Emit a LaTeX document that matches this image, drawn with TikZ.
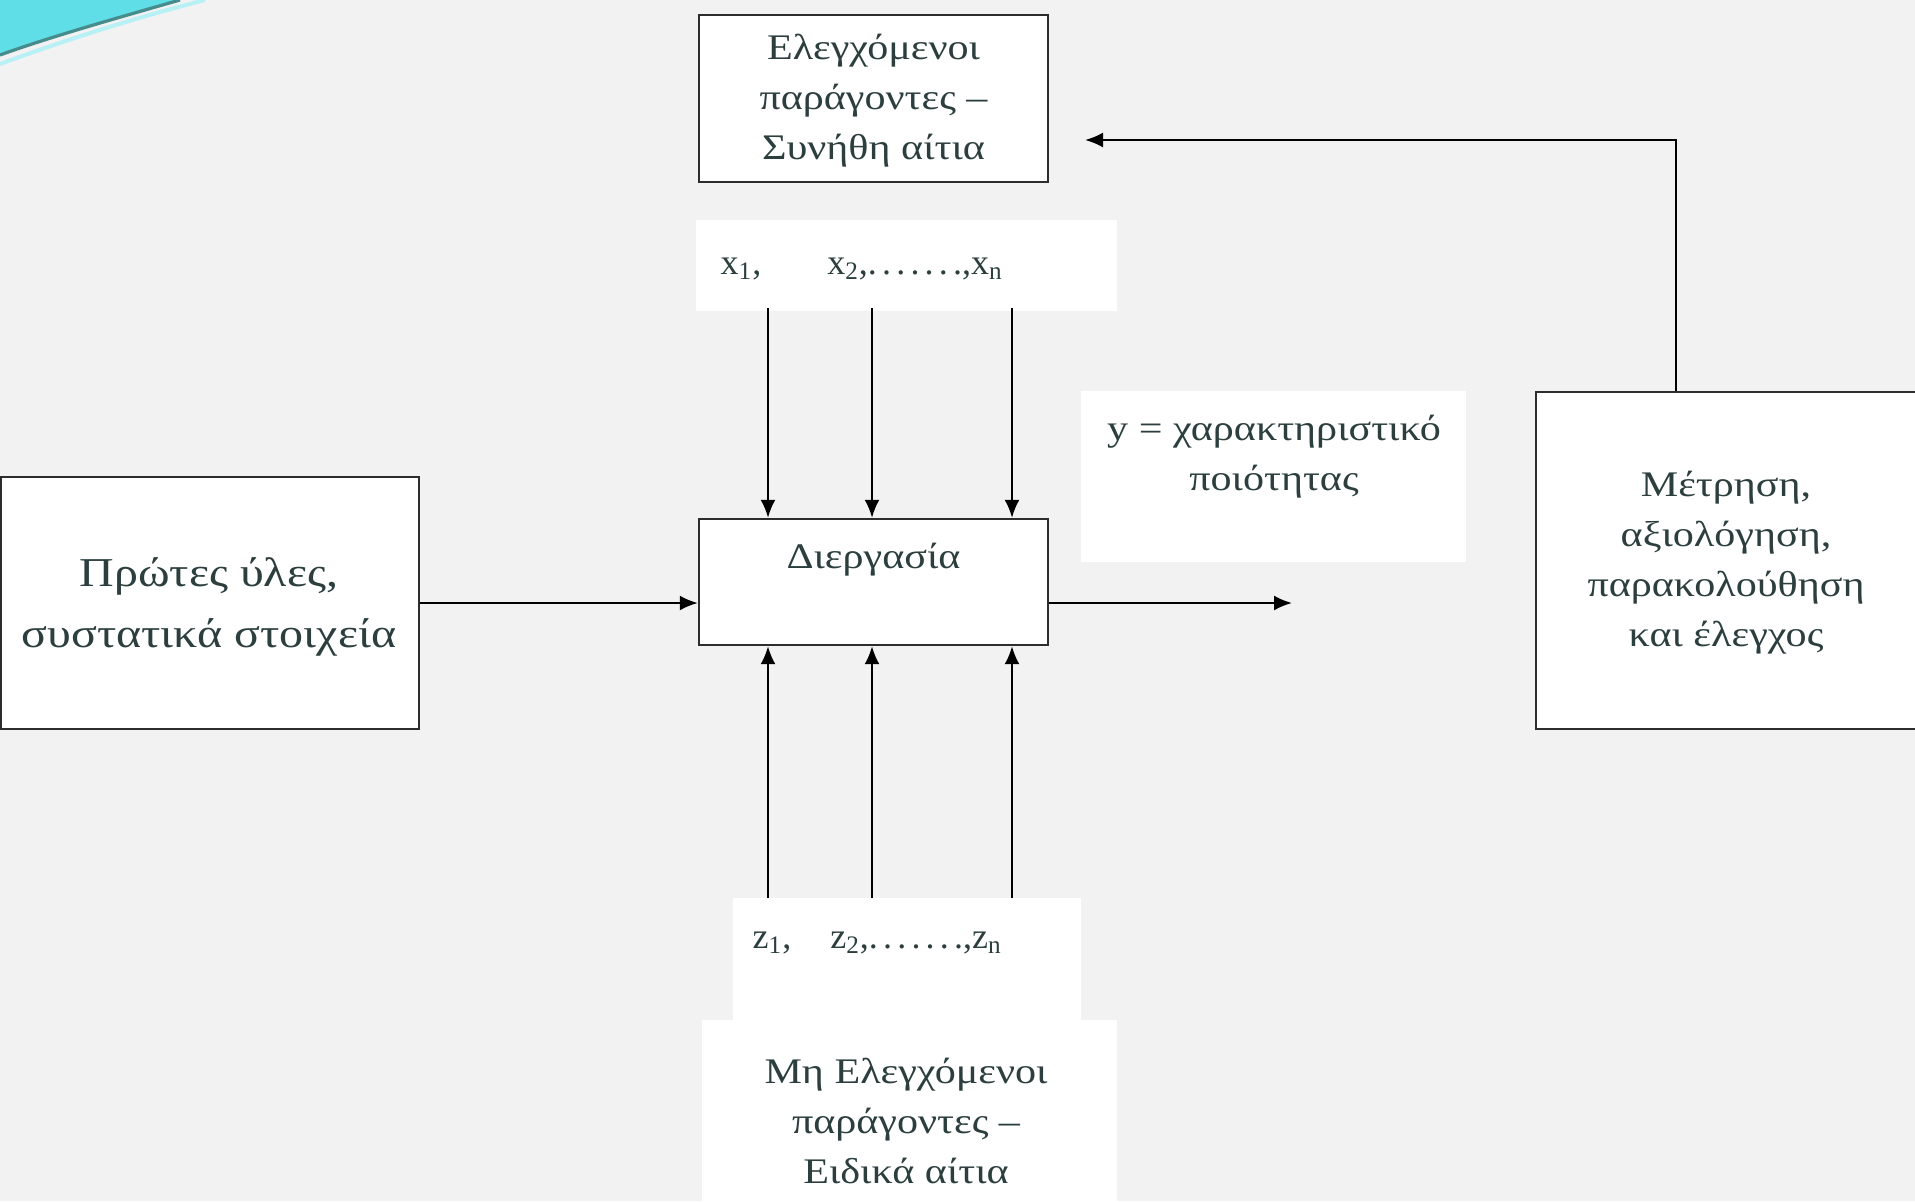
\documentclass[tikz,border=0pt]{standalone}
\usepackage{fontspec}
\setmainfont{Liberation Serif}
\newfontfamily\widegreek[FakeStretch=1.17]{Liberation Serif}
\usetikzlibrary{arrows.meta}
\definecolor{pagebg}{RGB}{242,242,242}
\definecolor{ink}{RGB}{44,62,62}
\definecolor{frame}{RGB}{45,45,45}
\definecolor{swoosh}{RGB}{96,222,232}
\definecolor{swooshline}{RGB}{70,140,140}
\newcommand{\dotrun}{.\kern2.6pt.\kern2.6pt.\kern2.6pt.\kern2.6pt.\kern2.6pt.\kern2.6pt.}
\tikzset{
  box/.style={draw=frame, line width=1.2pt, fill=white, inner sep=0pt},
  txt/.style={text=ink, font=\widegreek\fontsize{18}{25}\selectfont, align=center, inner sep=0pt},
  idx/.style={text=ink, font=\fontsize{18}{25}\selectfont, align=center, inner sep=0pt},
  bigtxt/.style={text=ink, font=\widegreek\fontsize{20.5}{30.5}\selectfont, align=center, inner sep=0pt},
  flow/.style={draw=black, line width=1.1pt, -{Latex[length=9pt,width=7.5pt]}},
  patch/.style={fill=white, draw=none}
}
\begin{document}
\begin{tikzpicture}[x=0.5pt,y=-0.5pt]
\useasboundingbox (0,0) rectangle (1915,1201);
% page background and light panels behind the free labels
\fill[pagebg] (0,0) rectangle (1915,1201);
\fill[patch] (696,220) rectangle (1117,311);
\fill[patch] (1081,391) rectangle (1466,562);
\fill[patch] (733,898) rectangle (1081,1020);
\fill[patch] (702,1020) rectangle (1117,1201);
% corner ornament
\fill[swoosh] (0,0) -- (180,0) .. controls (110,20) and (50,37) .. (0,55) -- cycle;
\draw[swooshline, line width=1.6pt] (0,55) .. controls (50,37) and (110,20) .. (180,0);
\draw[swoosh!45, line width=2pt] (0,64) .. controls (60,42) and (130,19) .. (205,0);

% boxes
\node[box, minimum width=174.5pt, minimum height=83.5pt] (ctrl) at (873.5,98.5) {};
\node[txt] (ctrltxt) at (873.5,101) {Ελεγχόμενοι\\παράγοντες –\\Συνήθη αίτια};

\node[box, minimum width=174.5pt, minimum height=63pt] (proc) at (873.5,582) {};
\node[txt] (proctxt) at (873.5,560) {Διεργασία};

\node[box, minimum width=209pt, minimum height=126pt] (raw) at (210,603) {};
\node[bigtxt] (rawtxt) at (209,607) {Πρώτες ύλες,\\συστατικά στοιχεία};

\node[box, minimum width=192pt, minimum height=168.5pt] (meas) at (1728,560.5) {};
\node[txt] (meastxt) at (1726,563) {Μέτρηση,\\αξιολόγηση,\\παρακολούθηση\\και έλεγχος};

% free labels
\node[idx, anchor=base] (x1) at (741,274) {x\textsubscript{1},};
\node[idx, anchor=base] (xn) at (915,274) {x\textsubscript{2},\dotrun,x\textsubscript{n}};
\node[txt] (ylab) at (1274,457) {y = χαρακτηριστικό\\ποιότητας};
\node[idx, anchor=base] (z1) at (772,948) {z\textsubscript{1},};
\node[idx, anchor=base] (zn) at (916,948) {z\textsubscript{2},\dotrun,z\textsubscript{n}};
\node[txt] (unctl) at (906,1121) {Μη Ελεγχόμενοι\\παράγοντες –\\Ειδικά αίτια};

% connector end points
\coordinate (xa) at (768,308);
\coordinate (xb) at (872,308);
\coordinate (xc) at (1012,308);
\coordinate (za) at (768,898);
\coordinate (zb) at (872,898);
\coordinate (zc) at (1012,898);
\coordinate (out) at (1292,603);
\coordinate (fbturn) at (1676,140);
\coordinate (fbend) at (1085,140);

% flows
\draw[flow] (raw.east) -- (proc.west |- raw.east);
\draw[flow] (proc.east |- out) -- (out);
\draw[flow] (xa) -- (xa |- proc.north);
\draw[flow] (xb) -- (xb |- proc.north);
\draw[flow] (xc) -- (xc |- proc.north);
\draw[flow] (za) -- (za |- proc.south);
\draw[flow] (zb) -- (zb |- proc.south);
\draw[flow] (zc) -- (zc |- proc.south);
\draw[flow] (fbturn |- meas.north) -- (fbturn) -- (fbend);
\end{tikzpicture}
\end{document}
